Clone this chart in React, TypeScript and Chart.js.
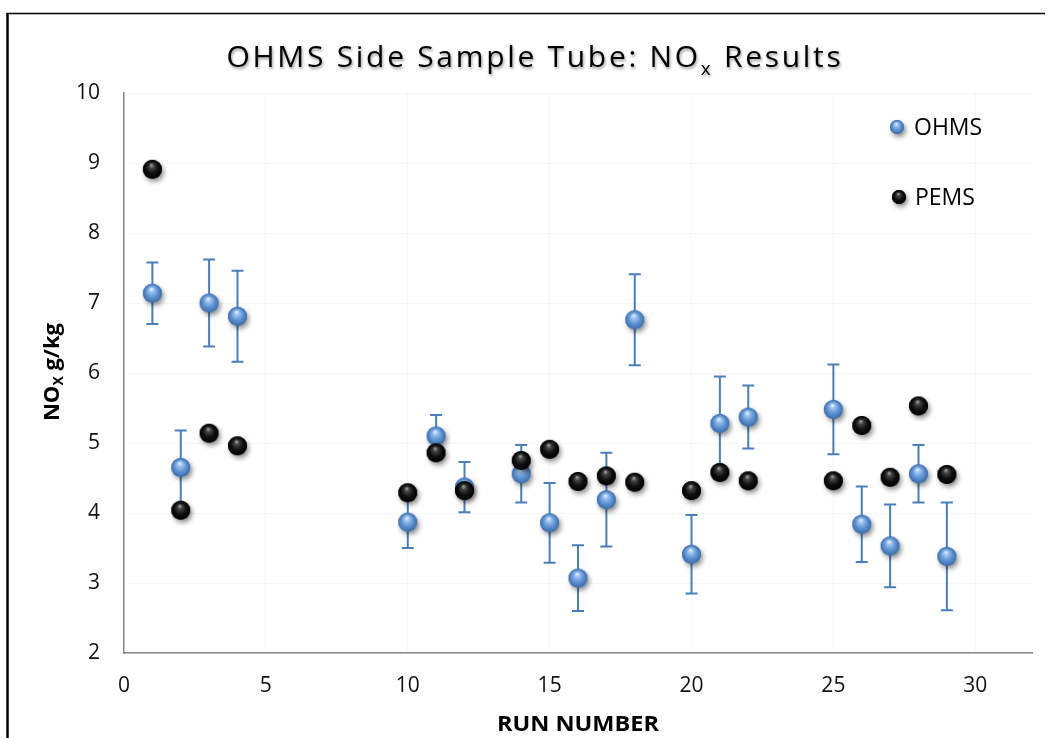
import React, { useEffect, useRef } from 'react';
import { Chart, registerables } from 'chart.js';

Chart.register(...registerables);

const runNumbers = [1, 2, 3, 4, 10, 11, 12, 14, 15, 16, 17, 18, 20, 21, 22, 25, 26, 27, 28, 29];
const ohmsValues = [7.14, 4.65, 7.0, 6.81, 3.87, 5.1, 4.37, 4.56, 3.86, 3.07, 4.19, 6.76, 3.41, 5.28, 5.37, 5.48, 3.84, 3.53, 4.56, 3.38];
const ohmsErrors = [0.44, 0.53, 0.62, 0.65, 0.37, 0.3, 0.36, 0.41, 0.57, 0.47, 0.67, 0.65, 0.56, 0.67, 0.45, 0.64, 0.54, 0.59, 0.41, 0.77];
const pemsValues = [8.91, 4.04, 5.14, 4.96, 4.29, 4.86, 4.32, 4.75, 4.91, 4.45, 4.53, 4.44, 4.32, 4.58, 4.46, 4.46, 5.25, 4.51, 5.53, 4.55];
const xTicks = [0, 5, 10, 15, 20, 25, 30];
const yTicks = [2, 3, 4, 5, 6, 7, 8, 9, 10];

const FONT = '"Open Sans", "Noto Sans", "DejaVu Sans", sans-serif';

function makeBall(r: number, kind: 'blue' | 'black'): HTMLCanvasElement {
  const pad = 8;
  const size = Math.ceil(2 * r + 2 * pad);
  const c = document.createElement('canvas');
  c.width = size;
  c.height = size;
  const ctx = c.getContext('2d')!;
  const cx = size / 2;
  const cy = size / 2;
  ctx.save();
  ctx.shadowColor = 'rgba(0,0,0,0.45)';
  ctx.shadowBlur = 5;
  ctx.shadowOffsetX = 2;
  ctx.shadowOffsetY = 3;
  ctx.beginPath();
  ctx.arc(cx, cy, r, 0, Math.PI * 2);
  ctx.fillStyle = kind === 'blue' ? '#4f81bd' : '#000';
  ctx.fill();
  ctx.restore();
  const g = ctx.createRadialGradient(cx - r * 0.1, cy - r * 0.45, r * 0.05, cx, cy, r);
  if (kind === 'blue') {
    g.addColorStop(0, '#e2eefc');
    g.addColorStop(0.22, '#9cc2ee');
    g.addColorStop(0.6, '#5e93d4');
    g.addColorStop(1, '#3c6ca8');
  } else {
    g.addColorStop(0, '#a0a0a0');
    g.addColorStop(0.2, '#454545');
    g.addColorStop(0.6, '#101010');
    g.addColorStop(1, '#000');
  }
  ctx.beginPath();
  ctx.arc(cx, cy, r, 0, Math.PI * 2);
  ctx.fillStyle = g;
  ctx.fill();
  return c;
}

const errorBarPlugin = {
  id: 'errorBars',
  beforeDatasetsDraw(chart: any) {
    const { ctx, scales } = chart;
    const xs = scales.x;
    const ys = scales.y;
    ctx.save();
    ctx.strokeStyle = '#4a7ebb';
    ctx.lineWidth = 2;
    runNumbers.forEach((r, i) => {
      const px = xs.getPixelForValue(r);
      const top = ys.getPixelForValue(ohmsValues[i] + ohmsErrors[i]);
      const bot = ys.getPixelForValue(ohmsValues[i] - ohmsErrors[i]);
      ctx.beginPath();
      ctx.moveTo(px, top);
      ctx.lineTo(px, bot);
      ctx.moveTo(px - 6, top);
      ctx.lineTo(px + 6, top);
      ctx.moveTo(px - 6, bot);
      ctx.lineTo(px + 6, bot);
      ctx.stroke();
    });
    ctx.restore();
  },
};

function makeDecorPlugin(legendBlue: HTMLCanvasElement, legendBlack: HTMLCanvasElement) {
  return {
    id: 'decor',
    afterDraw(chart: any) {
      const ctx: CanvasRenderingContext2D = chart.ctx;
      const area = chart.chartArea;
      ctx.save();
      // frame
      ctx.strokeStyle = '#000';
      ctx.lineWidth = 1.5;
      ctx.beginPath();
      ctx.moveTo(7, 13.5);
      ctx.lineTo(1045, 13.5);
      ctx.stroke();
      ctx.lineWidth = 2.5;
      ctx.beginPath();
      ctx.moveTo(7.5, 13);
      ctx.lineTo(7.5, 738);
      ctx.stroke();

      // title with subscript
      const p1 = 'OHMS Side Sample Tube: NO';
      const p2 = 'x';
      const p3 = ' Results';
      const bigFont = `30px ${FONT}`;
      const smallFont = `19px ${FONT}`;
      (ctx as any).letterSpacing = '0px';
      ctx.font = bigFont;
      const w1 = ctx.measureText(p1).width;
      const w3 = ctx.measureText(p3).width;
      ctx.font = smallFont;
      const w2 = ctx.measureText(p2).width;
      const nChars = p1.length + p2.length + p3.length;
      const target = 617;
      let ls = (target - (w1 + w2 + w3)) / nChars;
      ls = Math.max(-1, Math.min(5, ls));
      (ctx as any).letterSpacing = `${ls}px`;
      ctx.font = bigFont;
      const W1 = ctx.measureText(p1).width;
      const W3 = ctx.measureText(p3).width;
      ctx.font = smallFont;
      const W2 = ctx.measureText(p2).width;
      const total = W1 + W2 + W3;
      let tx = 535 - total / 2;
      const base = 67;
      ctx.shadowColor = 'rgba(0,0,0,0.4)';
      ctx.shadowBlur = 3;
      ctx.shadowOffsetX = 1;
      ctx.shadowOffsetY = 2;
      ctx.fillStyle = '#000';
      ctx.textBaseline = 'alphabetic';
      ctx.textAlign = 'left';
      ctx.font = bigFont;
      ctx.fillText(p1, tx, base);
      tx += W1;
      ctx.font = smallFont;
      ctx.fillText(p2, tx, base + 8);
      tx += W2;
      ctx.font = bigFont;
      ctx.fillText(p3, tx, base);
      ctx.shadowColor = 'transparent';
      ctx.shadowBlur = 0;
      ctx.shadowOffsetX = 0;
      ctx.shadowOffsetY = 0;
      (ctx as any).letterSpacing = '0px';

      // x axis title
      ctx.font = `bold 22px ${FONT}`;
      const xt = 'RUN NUMBER';
      const xw = ctx.measureText(xt).width;
      const sx = 162 / xw;
      ctx.save();
      ctx.translate((area.left + area.right) / 2, 731);
      ctx.scale(sx, 1);
      ctx.textAlign = 'center';
      ctx.textBaseline = 'alphabetic';
      ctx.fillText(xt, 0, 0);
      ctx.restore();

      // y axis title with subscript
      ctx.save();
      ctx.translate(52, 372);
      ctx.rotate(-Math.PI / 2);
      const yb = `bold 22px ${FONT}`;
      const ys = `bold 14px ${FONT}`;
      ctx.font = yb;
      const a = ctx.measureText('NO').width;
      const c = ctx.measureText(' g/kg').width;
      ctx.font = ys;
      const b = ctx.measureText('X').width;
      let yx = -(a + b + c) / 2;
      ctx.textBaseline = 'alphabetic';
      ctx.textAlign = 'left';
      ctx.font = yb;
      ctx.fillText('NO', yx, 7);
      yx += a;
      ctx.font = ys;
      ctx.fillText('X', yx, 11);
      yx += b;
      ctx.font = yb;
      ctx.fillText(' g/kg', yx, 7);
      ctx.restore();

      // legend
      ctx.drawImage(legendBlue, 897 - legendBlue.width / 2, 127 - legendBlue.height / 2);
      ctx.drawImage(legendBlack, 899 - legendBlack.width / 2, 197 - legendBlack.height / 2);
      ctx.font = `23px ${FONT}`;
      ctx.textAlign = 'left';
      ctx.textBaseline = 'middle';
      ctx.fillStyle = '#000';
      ctx.fillText('OHMS', 914, 128);
      ctx.fillText('PEMS', 915, 198);
      ctx.restore();
    },
  };
}

export default function App() {
  const ref = useRef<HTMLCanvasElement | null>(null);

  useEffect(() => {
    if (!ref.current) return;
    const blueBall = makeBall(9.5, 'blue');
    const blackBall = makeBall(9.5, 'black');
    const legendBlue = makeBall(7, 'blue');
    const legendBlack = makeBall(7, 'black');

    const chart = new Chart(ref.current, {
      type: 'scatter',
      data: {
        datasets: [
          {
            label: 'PEMS',
            data: runNumbers.map((x, i) => ({ x, y: pemsValues[i] })),
            pointStyle: blackBall as any,
            pointRadius: 9,
            order: 0,
          },
          {
            label: 'OHMS',
            data: runNumbers.map((x, i) => ({ x, y: ohmsValues[i] })),
            pointStyle: blueBall as any,
            pointRadius: 9,
            order: 1,
          },
        ],
      },
      options: {
        responsive: false,
        animation: false,
        layout: { padding: { left: 0, top: 93, right: 18, bottom: 0 } },
        plugins: {
          legend: { display: false },
          title: { display: false },
          tooltip: { enabled: false },
        },
        scales: {
          x: {
            type: 'linear',
            min: 0,
            max: 32,
            bounds: 'data',
            afterFit: (s: any) => {
              s.height = 85;
            },
            afterBuildTicks: (s: any) => {
              s.ticks = xTicks.map((v) => ({ value: v }));
            },
            grid: { color: 'rgba(0,0,0,0.03)', drawTicks: false },
            border: { color: '#878787', width: 1.5 },
            ticks: {
              padding: 20,
              color: '#111',
              font: { family: FONT, size: 21 },
              maxRotation: 0,
            },
          },
          y: {
            type: 'linear',
            min: 2,
            max: 10,
            bounds: 'data',
            afterFit: (s: any) => {
              s.width = 124;
            },
            afterBuildTicks: (s: any) => {
              s.ticks = yTicks.map((v) => ({ value: v }));
            },
            grid: { color: 'rgba(0,0,0,0.03)', drawTicks: false },
            border: { color: '#878787', width: 1.5 },
            ticks: {
              padding: 24,
              color: '#111',
              font: { family: FONT, size: 21 },
            },
          },
        },
      },
      plugins: [errorBarPlugin, makeDecorPlugin(legendBlue, legendBlack)],
    });
    return () => chart.destroy();
  }, []);

  return (
    <div style={{ position: 'fixed', left: 0, top: 0, width: 1050, height: 738, background: '#fff' }}>
      <canvas ref={ref} width={1050} height={738} style={{ display: 'block' }} />
    </div>
  );
}
